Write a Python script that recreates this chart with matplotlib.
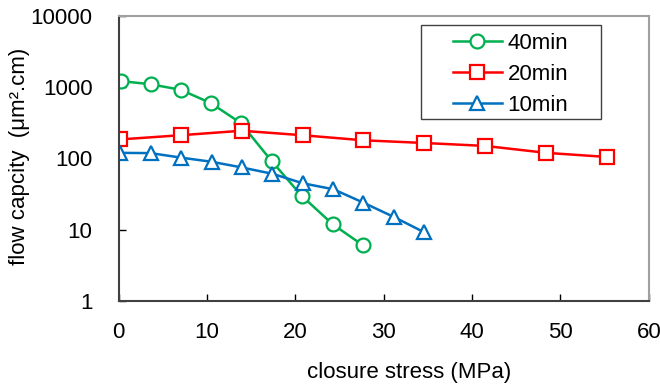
import matplotlib
matplotlib.use("Agg")
import matplotlib.pyplot as plt
from matplotlib.patches import Rectangle

# closure stress (MPa) and flow capacity (um2.cm)
stress_40 = [0.2, 3.6, 7.0, 10.4, 13.8, 17.3, 20.7, 24.2, 27.6]
flow_40 = [1220, 1100, 920, 600, 315, 92, 30, 12, 6.1]

stress_20 = [0.1, 7.0, 13.9, 20.8, 27.7, 34.6, 41.5, 48.4, 55.3]
flow_20 = [185, 212, 245, 212, 180, 165, 150, 120, 105]

stress_10 = [0.1, 3.6, 7.0, 10.5, 13.9, 17.4, 20.8, 24.3, 27.7, 31.2, 34.6]
flow_10 = [120, 119, 103, 90, 75, 61, 45, 37, 24, 15, 9.2]

x_ticks = [0, 10, 20, 30, 40, 50, 60]
y_ticks = [1, 10, 100, 1000, 10000]

plt.rcParams["font.family"] = ["Liberation Sans", "DejaVu Sans"]

fig = plt.figure(figsize=(6.6, 3.88), dpi=100)
ax = fig.add_axes([0.180, 0.224, 0.803, 0.735])

common = dict(linewidth=1.8, markersize=10, markerfacecolor="white", markeredgewidth=1.6)
ax.plot(stress_40, flow_40, marker="o", color="#00B050", label="40min", **common)
ax.plot(stress_20, flow_20, marker="s", color="#FF0000", label="20min", **common)
ax.plot(stress_10, flow_10, marker="^", color="#0070C0", label="10min", **common)

ax.set_yscale("log")
ax.set_xlim(0, 60)
ax.set_ylim(1, 10000)
ax.set_xticks(x_ticks)
ax.set_yticks(y_ticks)
ax.set_yticklabels([str(v) for v in y_ticks])
ax.minorticks_off()
ax.tick_params(direction="in", length=5, width=1, labelsize=16, colors="black")
ax.tick_params(axis="x", pad=15)
ax.tick_params(axis="y", pad=19)

for side in ["left", "bottom"]:
    ax.spines[side].set_color("#404040")
    ax.spines[side].set_linewidth(1.5)
for side in ["top", "right"]:
    ax.spines[side].set_color("#A0A0A0")
    ax.spines[side].set_linewidth(1.5)

ax.set_xlabel("closure stress (MPa)", fontsize=16)
ax.xaxis.set_label_coords(0.5475, -0.214)
ax.set_ylabel("flow capcity  (\u03bcm\u00b2.cm)", fontsize=16)
ax.yaxis.set_label_coords(-0.167, 0.507)

# legend box drawn like the spreadsheet one: wide side padding, thin frame
ax.add_patch(Rectangle((0.570, 0.6386), 0.3395, 0.3298, transform=ax.transAxes,
                       facecolor="white", edgecolor="#404040", linewidth=1.0, zorder=4))
leg = ax.legend(loc="upper left", bbox_to_anchor=(0.6305, 0.940), fontsize=16,
                frameon=False, handlelength=2.2, handletextpad=0.25,
                borderpad=0, labelspacing=0.45, borderaxespad=0)
leg.set_zorder(5)

fig.savefig("out.png", dpi=100)
